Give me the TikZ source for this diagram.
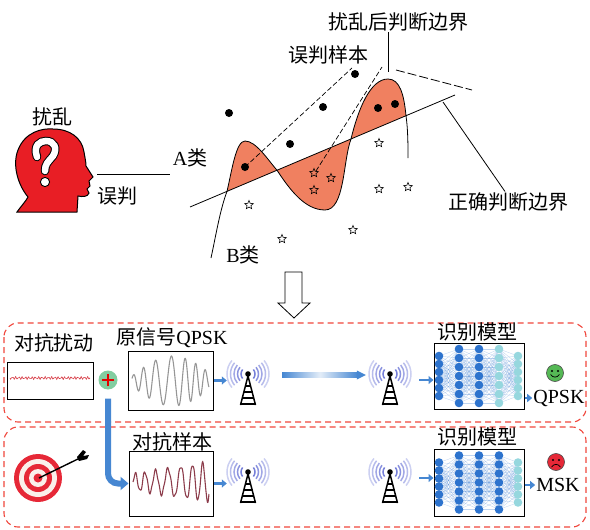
\documentclass[tikz,border=0pt]{standalone}
\usepackage{fontspec}
\setmainfont{Liberation Serif}
\newfontfamily\cjk{Noto Sans CJK SC}
\usetikzlibrary{shapes.geometric}
\usetikzlibrary{arrows.meta}

\definecolor{headred}{RGB}{232,30,37}
\definecolor{regionfill}{RGB}{240,128,96}
\definecolor{arrowblue}{RGB}{70,135,210}
\definecolor{nodeblue}{RGB}{45,115,205}
\definecolor{nodecyan}{RGB}{150,215,222}
\definecolor{wavecol}{RGB}{110,120,215}
\definecolor{boxred}{RGB}{240,70,60}
\definecolor{wavegray}{RGB}{150,150,150}
\definecolor{wavered}{RGB}{140,60,75}
\definecolor{noisered}{RGB}{215,60,70}
\definecolor{plusgreen}{RGB}{130,205,160}
\definecolor{smilegreen}{RGB}{85,185,85}
\definecolor{targetred}{RGB}{230,40,55}
\definecolor{targetwhite}{RGB}{250,240,235}

\tikzset{
  lbl/.style={font=\fontsize{20}{24}\selectfont, inner sep=1pt},
  sample/.style={circle, fill=black, inner sep=0pt, minimum size=8pt},
  bstar/.style={star, star points=5, star point ratio=2.2, draw, line width=0.6pt, inner sep=0pt, minimum size=9pt},
  sigbox/.style={draw, line width=1pt, inner sep=0pt},
  antbox/.style={inner sep=0pt, minimum width=42pt, minimum height=46pt},
  grp/.style={draw=boxred, dash pattern=on 6pt off 4pt, line width=1.1pt, rounded corners=14pt},
  feed/.style={arrowblue, line width=2.5pt, -{Triangle[length=5pt, width=8pt]}},
  face/.style={circle, draw=black!70, line width=0.6pt, minimum size=17pt, inner sep=0pt},
  tower/.pic={
    \foreach \r/\o in {7/0.95, 10.5/0.8, 14/0.65, 17.5/0.5, 21/0.35} {
      \draw[wavecol, opacity=\o, line width=1.5pt] (0,0) ++(140:\r) arc (140:220:\r);
      \draw[wavecol, opacity=\o, line width=1.5pt] (0,0) ++(-40:\r) arc (-40:40:\r);
    }
    \draw[line width=1.5pt] (-7.5,31) -- (0,2) -- (7.5,31);
    \foreach \h in {12, 18, 24, 30}
      \draw[line width=1.1pt] ({-\h*0.25},\h) -- ({\h*0.25},\h);
    \fill (0,0) circle (2.8);
  }
}

% layered network drawn inside a model box: centre x, centre y, number of dark layers
\newcommand\nnet[3]{%
  \begin{scope}[shift={(#1,#2)}]
    \foreach \xa/\na/\xb/\nb in {-40/6/-20/7, -20/7/0/7, 0/7/20/7, 20/7/39/6}
      \foreach \i in {1,...,\na}
        \foreach \j in {1,...,\nb}
          \draw[nodeblue, opacity=0.3, line width=0.35pt]
            (\xa, {(\i-(\na+1)/2)*(\na+2)}) -- (\xb, {(\j-(\nb+1)/2)*(\nb+2)});
    \foreach \xa/\na [count=\k] in {-40/6, -20/7, 0/7, 20/7, 39/6} {
      \ifnum\k>#3 \def\nc{nodecyan}\else\def\nc{nodeblue}\fi
      \foreach \i in {1,...,\na}
        \fill[\nc] (\xa, {(\i-(\na+1)/2)*(\na+2)}) circle (4.3);
    }
  \end{scope}}

\begin{document}
\begin{tikzpicture}[x=1pt, y=-1pt]
  \useasboundingbox (0,0) rectangle (590,530);

  % head with question mark
  \draw[fill=headred, line width=1pt] (17,212) .. controls (22,205) and (26,201) .. (28,197)
    .. controls (18,185) and (12,165) .. (18,150)
    .. controls (25,132) and (42,128) .. (53,129)
    .. controls (70,129) and (82,138) .. (84,152)
    .. controls (85,158) and (86,162) .. (86,166)
    -- (93,177) -- (89,181) -- (90,186) -- (87,189) -- (89,193)
    .. controls (88,197) and (82,197) .. (78,196)
    -- (77,212) -- cycle;
  \draw[line width=8.5pt, line cap=round] (37,157) .. controls (33,145) and (40,141) .. (46,141)
    .. controls (54,141) and (58,148) .. (53,156) .. controls (48,162) and (45,164) .. (45,171);
  \draw[white, line width=6.5pt, line cap=round] (37,157) .. controls (33,145) and (40,141) .. (46,141)
    .. controls (54,141) and (58,148) .. (53,156) .. controls (48,162) and (45,164) .. (45,171);
  \draw[fill=white, line width=0.9pt] (45,182) circle (4.6);

  \node[lbl] (perturb) at (52,117) {\cjk 扰乱};
  \coordinate (chin) at (97,174);
  \coordinate (amark) at (170,174);
  \draw[line width=0.8pt] (chin) -- (amark);
  \node[lbl] (wrong) at (117,196) {\cjk 误判};
  \node[lbl] (clsA) at (190,158) {A\cjk 类};
  \node[lbl] (clsB) at (243,255) {B\cjk 类};

  % boundaries
  \coordinate (la) at (190,207);
  \coordinate (lb) at (455,95);
  \coordinate (c1) at (227,191.4);
  \coordinate (c2) at (277,170.2);
  \coordinate (c3) at (351,139);
  \coordinate (c4) at (406,115.7);
  \coordinate (pk) at (388,79);
  \fill[regionfill] (c1) .. controls (232,170) and (236,141) .. (245,141)
    .. controls (256,141) and (268,160) .. (c2)
    .. controls (290,190) and (305,210) .. (325,210)
    .. controls (345,210) and (343,160) .. (c3)
    .. controls (358,110) and (370,79) .. (pk)
    .. controls (400,79) and (404,95) .. (c4) -- cycle;
  \draw[line width=0.8pt] (la) -- (lb);
  \draw[line width=0.8pt] (211,258) .. controls (216,235) and (220,210) .. (c1)
    .. controls (232,170) and (236,141) .. (245,141)
    .. controls (256,141) and (268,160) .. (c2)
    .. controls (290,190) and (305,210) .. (325,210)
    .. controls (345,210) and (343,160) .. (c3)
    .. controls (358,110) and (370,79) .. (pk)
    .. controls (400,79) and (404,95) .. (c4)
    .. controls (408,130) and (408,145) .. (408,158);

  \foreach \p [count=\i] in {(229,113), (290,144), (323,107), (355,74), (378,108), (395,104), (245,167)}
    \node[sample] (a\i) at \p {};
  \foreach \p [count=\i] in {(249,205), (282,239), (353,230), (379,143), (379,189), (408,187), (314,173), (331,178), (314,190)}
    \node[bstar] (b\i) at \p {};

  \node[lbl] (misl) at (328,55) {\cjk 误判样本};
  \node[lbl] (after) at (398,22) {\cjk 扰乱后判断边界};
  \node[lbl] (right) at (508,202) {\cjk 正确判断边界};
  \coordinate (dA) at (352,68);
  \coordinate (dB) at (382,67);
  \coordinate (pktop) at (388,72);
  \coordinate (dC) at (396,70);
  \coordinate (dD) at (472,90);
  \coordinate (lnpt) at (443,102);
  \draw[line width=0.7pt, dash pattern=on 5pt off 2.5pt] (a7.center) -- (dA);
  \draw[line width=0.7pt, dash pattern=on 5pt off 2.5pt] (b7.north east) -- (dB);
  \draw[line width=0.8pt] (after.south -| pktop) -- (pktop);
  \draw[line width=0.8pt, dash pattern=on 9pt off 3pt] (dC) -- (dD);
  \draw[line width=0.8pt] (lnpt) -- ([xshift=-3pt]right.north);

  % hollow arrow down
  \draw[fill=white, line width=0.8pt] (285,272) -- (302,272) -- (302,303) -- (310,303) -- (294,318)
    -- (278,303) -- (285,303) -- cycle;

  % groups
  \draw[grp] (4,323) rectangle (586,422);
  \draw[grp] (4,427) rectangle (586,527);

  % upper row
  \node[lbl] (advt) at (54,343) {\cjk 对抗扰动};
  \node[sigbox, minimum width=86pt, minimum height=37pt] (noise) at (50,380.5) {};
  \draw[noisered, line width=0.6pt] plot[domain=0:80, samples=160, smooth]
    ({10+\x}, {378 + 0.9*sin(110*\x) + 0.6*sin(170*\x+40)});
  \node[circle, fill=plusgreen, minimum size=19pt, inner sep=0pt] (plus) at (108,380) {};
  \draw[red!90!black, line width=2.6pt] ([xshift=-6pt]plus.center) -- ([xshift=6pt]plus.center);
  \draw[red!90!black, line width=2.6pt] ([yshift=-6pt]plus.center) -- ([yshift=6pt]plus.center);

  \node[lbl] (origt) at (172,338) {{\cjk 原信号}QPSK};
  \node[sigbox, minimum width=85pt, minimum height=59pt] (sig1) at (170.5,380.5) {};
  \draw[wavegray, line width=1.1pt] plot[domain=0:1, samples=200, smooth]
    ({132+77*\x}, {381 - (5+20*sin(170*\x))*sin(2300*\x + 90*sin(400*\x) + 30)});

  \node[antbox] (a1) at (248,380) {};
  \pic at ([yshift=6pt]a1) {tower};
  \node[antbox] (a2) at (390,380) {};
  \pic at ([yshift=6pt]a2) {tower};
  \draw[feed] (sig1.east) -- (sig1.east -| a1.west);
  \shade[left color=arrowblue, right color=arrowblue, middle color=arrowblue!15]
    ([xshift=13pt, yshift=2.5pt]a1.east) rectangle ([xshift=-11pt, yshift=7.5pt]a2.west);
  \fill[arrowblue] ([xshift=-12pt, yshift=9.5pt]a2.west) -- ([xshift=-3pt, yshift=5pt]a2.west)
    -- ([xshift=-12pt, yshift=0.5pt]a2.west) -- cycle;

  \node[lbl] (mt1) at (477,332) {\cjk 识别模型};
  \node[sigbox, minimum width=90pt, minimum height=66pt] (model1) at (479,376) {};
  \nnet{479}{376}{3}
  \draw[feed, shorten <=8pt] (a2.east) -- (a2.east -| model1.west);
  \node[lbl] (q1) at (559,398) {QPSK};
  \draw[feed] (model1.east |- q1.west) -- (q1.west);
  \node[face, fill=smilegreen] (f1) at (555,373) {};
  \fill ([xshift=-3pt, yshift=2pt]f1.center) circle (1.1);
  \fill ([xshift=3pt, yshift=2pt]f1.center) circle (1.1);
  \draw[line width=0.7pt] ([xshift=-4.5pt, yshift=-1.5pt]f1.center) .. controls ([xshift=-2pt, yshift=-5pt]f1.center)
    and ([xshift=2pt, yshift=-5pt]f1.center) .. ([xshift=4.5pt, yshift=-1.5pt]f1.center);

  % lower row
  \foreach \r/\c in {24/targetred, 19/targetwhite, 14/targetred, 9/targetwhite, 4.5/targetred}
    \fill[\c] (38,478) circle (\r);
  \draw[line width=1.4pt] (39,478) -- (80,458);
  \fill (77,457) -- (83,450) -- (86,452) -- (83,456) -- (89,455) -- (87,459) -- (79,461) -- cycle;

  \node[lbl] (advs) at (172,442) {\cjk 对抗样本};
  \node[sigbox, minimum width=84pt, minimum height=65pt] (sig2) at (171,483.5) {};
  \draw[wavered, line width=1.1pt] plot[domain=0:1, samples=220, smooth]
    ({133+76*\x}, {482 - (8+12*\x)*sin(2500*\x + 70*sin(350*\x)) + 1.5*sin(7000*\x)});
  \draw[arrowblue, line width=6pt, rounded corners=10pt, shorten <=9pt, -{Triangle[length=8pt, width=13pt]}]
    (plus.south) |- (sig2.west);

  \node[antbox] (a3) at (248,478) {};
  \pic at ([yshift=6pt]a3) {tower};
  \node[antbox] (a4) at (390,478) {};
  \pic at ([yshift=6pt]a4) {tower};
  \draw[feed] (sig2.east) -- (sig2.east -| a3.west);

  \node[lbl] (mt2) at (477,437) {\cjk 识别模型};
  \node[sigbox, minimum width=90pt, minimum height=67pt] (model2) at (479,482.5) {};
  \nnet{479}{482.5}{4}
  \draw[feed, shorten <=8pt] (a4.east) -- (a4.east -| model2.west);
  \node[lbl] (m1) at (558,485) {MSK};
  \draw[feed] (model2.east |- m1.west) -- (m1.west);
  \node[face, fill=targetred] (f2) at (556,462) {};
  \fill ([xshift=-3pt, yshift=2pt]f2.center) circle (1.1);
  \fill ([xshift=3pt, yshift=2pt]f2.center) circle (1.1);
  \draw[line width=0.7pt] ([xshift=-4.5pt, yshift=-5pt]f2.center) .. controls ([xshift=-2pt, yshift=-1.5pt]f2.center)
    and ([xshift=2pt, yshift=-1.5pt]f2.center) .. ([xshift=4.5pt, yshift=-5pt]f2.center);
\end{tikzpicture}
\end{document}
